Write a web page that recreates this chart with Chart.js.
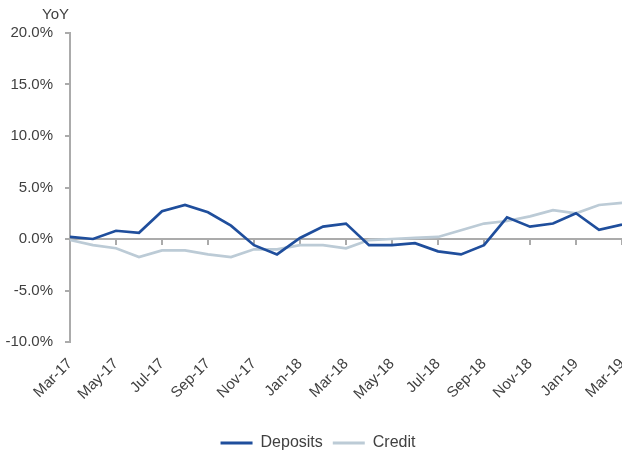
<!DOCTYPE html>
<html>
<head>
<meta charset="utf-8">
<script src="https://cdn.jsdelivr.net/npm/chart.js@4/dist/chart.umd.min.js"></script>
<style>
  html, body { margin:0; padding:0; background:#fff; }
  #wrap { width:622px; height:455px; position:relative; }
</style>
</head>
<body>
<div id="wrap"><canvas id="c"></canvas></div>
<script>
// data (YoY %, monthly)
const months = ['Mar-17','Apr-17','May-17','Jun-17','Jul-17','Aug-17','Sep-17','Oct-17','Nov-17','Dec-17',
  'Jan-18','Feb-18','Mar-18','Apr-18','May-18','Jun-18','Jul-18','Aug-18','Sep-18','Oct-18','Nov-18','Dec-18',
  'Jan-19','Feb-19','Mar-19'];
const deposits = [0.2, 0.0, 0.8, 0.6, 2.7, 3.3, 2.6, 1.3, -0.6, -1.5, 0.1, 1.2, 1.5,
  -0.6, -0.6, -0.4, -1.2, -1.5, -0.6, 2.1, 1.2, 1.5, 2.5, 0.9, 1.4];
const credit = [-0.1, -0.6, -0.9, -1.75, -1.1, -1.1, -1.5, -1.75, -1.0, -1.0, -0.6, -0.6, -0.9,
  -0.1, 0.0, 0.1, 0.2, 0.85, 1.5, 1.75, 2.2, 2.8, 2.5, 3.3, 3.5];
const yMin = -10, yMax = 20, yStep = 5;

const axisGray = '#ababab';
const textColor = '#404040';
Chart.defaults.font.family = '"Liberation Sans", Arial, sans-serif';
Chart.defaults.font.size = 15;
Chart.defaults.color = textColor;

// "YoY" caption above the value axis, and a small nudge of the legend
const extras = {
  id: 'extras',
  afterLayout(chart){
    const lg = chart.legend;
    lg.left += 7; lg.right += 7;
    lg.top += 6; lg.bottom += 6;
  },
  afterDraw(chart){
    const ctx = chart.ctx;
    ctx.save();
    ctx.font = '15px "Liberation Sans", Arial, sans-serif';
    ctx.fillStyle = textColor;
    ctx.textAlign = 'right';
    ctx.textBaseline = 'middle';
    ctx.fillText('YoY', chart.chartArea.left - 1, 15);
    ctx.restore();
  }
};

new Chart(document.getElementById('c'), {
  type: 'line',
  data: {
    labels: months,
    datasets: [
      { label:'Deposits', data:deposits, borderColor:'#1f4e9c', backgroundColor:'#1f4e9c', borderWidth:2.7, pointRadius:0, tension:0 },
      { label:'Credit', data:credit, borderColor:'#bccbd6', backgroundColor:'#bccbd6', borderWidth:2.7, pointRadius:0, tension:0 }
    ]
  },
  options: {
    responsive:true, maintainAspectRatio:false, animation:false,
    layout: { padding: { top:33, left:0, right:0, bottom:0 } },
    plugins: {
      tooltip: { enabled:false },
      legend: {
        position:'bottom',
        labels: {
          boxWidth:32, boxHeight:3, padding:10, font:{ size:16 }, color:textColor,
          generateLabels:(chart) => Chart.defaults.plugins.legend.labels.generateLabels(chart)
            .map(l => Object.assign(l, { lineWidth:0 }))
        }
      }
    },
    scales: {
      x: {
        position:'bottom',
        grid: { display:false, drawTicks:false },
        border: { display:false },
        ticks: {
          autoSkip:false, minRotation:45, maxRotation:45, padding:13,
          callback:(v, i) => i % 2 === 0 ? months[i] : ''
        },
        afterFit(s){ s.paddingLeft = 0; s.paddingRight = 0; s.height = 77; }
      },
      x2: {
        type:'category',
        position:{ y:0 },
        grid: {
          drawOnChartArea:false, lineWidth:2, tickLength:6,
          tickColor:(c) => c.index % 2 === 0 ? axisGray : 'rgba(0,0,0,0)'
        },
        border: { display:false },
        ticks: { display:false }
      },
      y: {
        min:yMin, max:yMax,
        ticks: { stepSize:yStep, padding:12, callback:(v) => v.toFixed(1) + '%' },
        grid: {
          lineWidth:2, tickLength:5, tickColor:axisGray,
          color:(c) => c.tick && c.tick.value === 0 ? axisGray : 'rgba(0,0,0,0)'
        },
        border: { color:axisGray, width:2 },
        afterFit(s){ s.width = 70; s.paddingTop = 0; s.paddingBottom = 0; }
      }
    }
  },
  plugins:[extras]
});
</script>
</body>
</html>
